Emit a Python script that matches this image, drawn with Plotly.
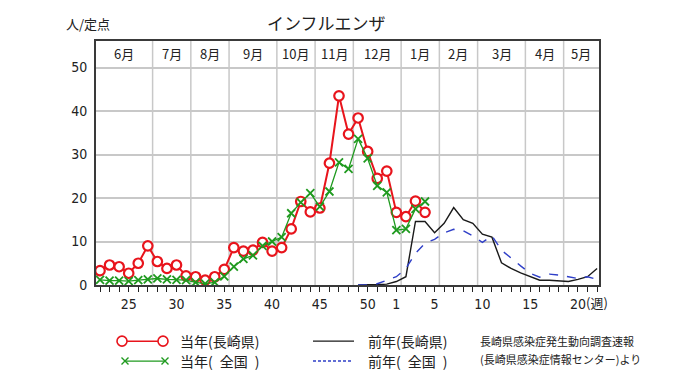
import plotly.graph_objects as go

# ---------------- data ----------------
weeks = [22, 23, 24, 25, 26, 27, 28, 29, 30, 31, 32, 33, 34, 35, 36, 37, 38, 39, 40,
         41, 42, 43, 44, 45, 46, 47, 48, 49, 50, 51, 52,
         1, 2, 3, 4, 5, 6, 7, 8, 9, 10, 11, 12, 13, 14, 15, 16, 17, 18, 19, 20, 21, 22]
labeled_weeks = ["25", "30", "35", "40", "45", "50", "1", "5", "10", "15", "20"]
week_unit = "(週)"

# current season, Nagasaki (weeks from 22)
cur_nagasaki = [3.3, 4.6, 4.2, 2.7, 5.0, 9.0, 5.4, 3.8, 4.6, 2.1, 1.9, 1.1, 1.9, 3.6,
                8.6, 7.8, 8.0, 9.8, 7.8, 8.6, 12.9, 19.2, 16.8, 17.7, 28.0, 43.5,
                34.7, 38.4, 30.7, 24.5, 26.2, 16.7, 15.7, 19.3, 16.7]
# current season, national
cur_national = [1.2, 1.0, 1.0, 0.9, 1.1, 1.3, 1.5, 1.3, 1.2, 1.1, 0.6, 0.3, 0.6, 2.0,
                4.2, 6.0, 6.8, 9.0, 10.0, 11.0, 16.5, 19.0, 21.1, 18.0, 21.5, 28.2,
                26.7, 33.6, 29.1, 22.8, 21.3, 12.6, 12.9, 17.5, 19.2]
# previous season (starting at week 49)
prev_start_week = 49
prev_nagasaki = [0.0, 0.0, 0.1, 0.2, 0.8, 1.9, 14.6, 14.6, 12.0, 14.2, 17.8, 15.0, 14.2,
                 11.7, 11.0, 5.1, 3.8, 2.8, 1.9, 1.1, 1.1, 0.9, 0.8, 1.3, 1.9, 3.8]
prev_national = [0.0, 0.0, 0.3, 1.1, 1.9, 3.8, 7.3, 9.6, 10.5, 12.0, 12.8, 12.5, 11.3,
                 9.8, 11.3, 8.0, 6.1, 4.4, 2.7, 1.8, 2.5, 2.3, 1.9, 1.5, 1.9, 1.3]

months = ["6月", "7月", "8月", "9月", "10月", "11月", "12月", "1月", "2月", "3月", "4月", "5月"]
# month boundaries expressed in week-slot units
month_bounds = [5.5, 9.5, 13.5, 18.5, 22.5, 26.5, 31.5, 35.5, 39.5, 44.5, 48.5]

y_ticks = [0, 10, 20, 30, 40, 50]

legend_names = ["当年(長崎県)", "当年(\u2002全国\u2002)", "前年(長崎県)", "前年(\u2002全国\u2002)"]
title_text = "インフルエンザ"
unit_text = "人/定点"
source_lines = ["長崎県感染症発生動向調査速報", "(長崎県感染症情報センター)より"]

# ---------------- layout constants ----------------
W, H = 680, 382
HR = 374          # height the page actually renders the figure at (measured)
PL, PR, PT, PB = 96, 599, 41, 285
X_RANGE = [-0.42, 52.2]
Y_RANGE = [0, 56.1]

RED = "#e8141c"
GREEN = "#1f9a1f"
BLACK = "#1a1a1a"
BLUE = "#2f3fc8"
GRID = "#c8c8c8"
FRAME = "#3a3a3a"
NUM_FONT = "Liberation Sans Narrow, DejaVu Sans Condensed, Arial Narrow, sans-serif"
JP_FONT = "Noto Sans CJK JP"


def px(x):
    return x / W


def py(y):
    return 1 - y / HR


slots = list(range(len(weeks)))
prev_slot0 = weeks.index(prev_start_week)
prev_slots = slots[prev_slot0:prev_slot0 + len(prev_nagasaki)]

fig = go.Figure()

fig.add_trace(go.Scatter(
    x=slots[:len(cur_nagasaki)], y=cur_nagasaki, mode="lines+markers",
    line=dict(color=RED, width=2),
    marker=dict(symbol="circle", size=9.5, color="white", line=dict(color=RED, width=2.2)),
    showlegend=False))
fig.add_trace(go.Scatter(
    x=slots[:len(cur_national)], y=cur_national, mode="lines+markers",
    line=dict(color=GREEN, width=1.3),
    marker=dict(symbol="x-thin", size=8, color=GREEN, line=dict(color=GREEN, width=1.8)),
    showlegend=False))
fig.add_trace(go.Scatter(
    x=prev_slots, y=prev_nagasaki, mode="lines",
    line=dict(color=BLACK, width=1.4), showlegend=False))
fig.add_trace(go.Scatter(
    x=prev_slots, y=prev_national, mode="lines",
    line=dict(color=BLUE, width=1.4, dash="dash"), showlegend=False))

# tick labels
tick_text = []
seen = set()
for w in weeks:
    s = str(w)
    if s in labeled_weeks and s not in seen:
        tick_text.append(s)
        seen.add(s)
    else:
        tick_text.append("")

# month gridlines
for b in month_bounds:
    fig.add_shape(type="line", xref="x", yref="y", x0=b, x1=b, y0=Y_RANGE[0], y1=Y_RANGE[1],
                  line=dict(color=GRID, width=1.5), layer="below")

# month labels
edges = [X_RANGE[0]] + month_bounds + [X_RANGE[1]]
for i, m in enumerate(months):
    fig.add_annotation(x=(edges[i] + edges[i + 1]) / 2, y=53.3, xref="x", yref="y",
                       text=m, showarrow=False, xanchor="center", yanchor="middle",
                       font=dict(family=JP_FONT, size=13, color="#222"))

# "(週)"
fig.add_annotation(x=px(584), y=py(302), xref="paper", yref="paper", text=week_unit,
                   showarrow=False, xanchor="left", yanchor="middle",
                   font=dict(family=JP_FONT, size=13, color="#222"))

# title & unit
fig.add_annotation(x=px(88), y=py(23), xref="paper", yref="paper", text=unit_text,
                   showarrow=False, xanchor="center", yanchor="middle",
                   font=dict(family=JP_FONT, size=13, color="#222"))
fig.add_annotation(x=px(326), y=py(22), xref="paper", yref="paper", text=title_text,
                   showarrow=False, xanchor="center", yanchor="middle",
                   font=dict(family=JP_FONT, size=17, color="#222"))

# ---------------- legend (drawn on a pixel overlay axis) ----------------
row1, row2 = 341, 361
fig.add_trace(go.Scatter(
    x=[122, 163], y=[row1, row1], xaxis="x2", yaxis="y2", mode="lines+markers",
    line=dict(color=RED, width=1.5),
    marker=dict(symbol="circle", size=10, color="white", line=dict(color=RED, width=1.6)),
    showlegend=False, hoverinfo="skip"))
fig.add_trace(go.Scatter(
    x=[125, 165], y=[row2, row2], xaxis="x2", yaxis="y2", mode="lines+markers",
    line=dict(color=GREEN, width=1.3),
    marker=dict(symbol="x-thin", size=7, color=GREEN, line=dict(color=GREEN, width=1.4)),
    showlegend=False, hoverinfo="skip"))
fig.add_trace(go.Scatter(
    x=[313, 354], y=[row1, row1], xaxis="x2", yaxis="y2", mode="lines",
    line=dict(color=BLACK, width=1.4), showlegend=False, hoverinfo="skip"))
fig.add_trace(go.Scatter(
    x=[313, 353], y=[row2, row2], xaxis="x2", yaxis="y2", mode="lines",
    line=dict(color=BLUE, width=1.4, dash="3px,2px"), showlegend=False, hoverinfo="skip"))

for name, xx, yy in [(legend_names[0], 178, row1), (legend_names[1], 178, row2),
                     (legend_names[2], 366, row1), (legend_names[3], 366, row2)]:
    fig.add_annotation(x=px(xx), y=py(yy), xref="paper", yref="paper", text=name,
                       showarrow=False, xanchor="left", yanchor="middle",
                       font=dict(family=JP_FONT, size=14, color="#222"))
for line, yy in zip(source_lines, [row1, row2 - 2]):
    fig.add_annotation(x=px(478), y=py(yy), xref="paper", yref="paper", text=line,
                       showarrow=False, xanchor="left", yanchor="middle",
                       font=dict(family=JP_FONT, size=11, color="#222"))

fig.update_layout(
    width=W, height=H,
    margin=dict(l=0, r=0, t=0, b=0),
    paper_bgcolor="white", plot_bgcolor="white",
    xaxis=dict(domain=[px(PL), px(PR)], range=X_RANGE, anchor="y",
               tickmode="array", tickvals=slots, ticktext=tick_text,
               ticks="outside", ticklen=5, tickwidth=1, tickcolor="#222",
               showline=True, linecolor=FRAME, linewidth=2, mirror=True,
               showgrid=False, zeroline=False,
               tickfont=dict(family=NUM_FONT, size=14, color="#222")),
    yaxis=dict(domain=[py(PB), py(PT)], range=Y_RANGE, anchor="x",
               tickmode="array", tickvals=y_ticks, ticks="",
               showline=True, linecolor=FRAME, linewidth=2, mirror=True,
               showgrid=True, gridcolor=GRID, gridwidth=1.5, zeroline=False,
               ticklabelstandoff=4,
               tickfont=dict(family=NUM_FONT, size=14, color="#222")),
    xaxis2=dict(domain=[0, 1], range=[0, W], anchor="y2", visible=False, fixedrange=True),
    yaxis2=dict(domain=[0, py(PB) - 0.001], range=[HR, PB], anchor="x2", visible=False,
                fixedrange=True),
)

fig.write_html("out.html",
               config={"displayModeBar": False},
               post_script="document.body.style.margin='0px';"
                           "document.documentElement.style.overflow='hidden';")
